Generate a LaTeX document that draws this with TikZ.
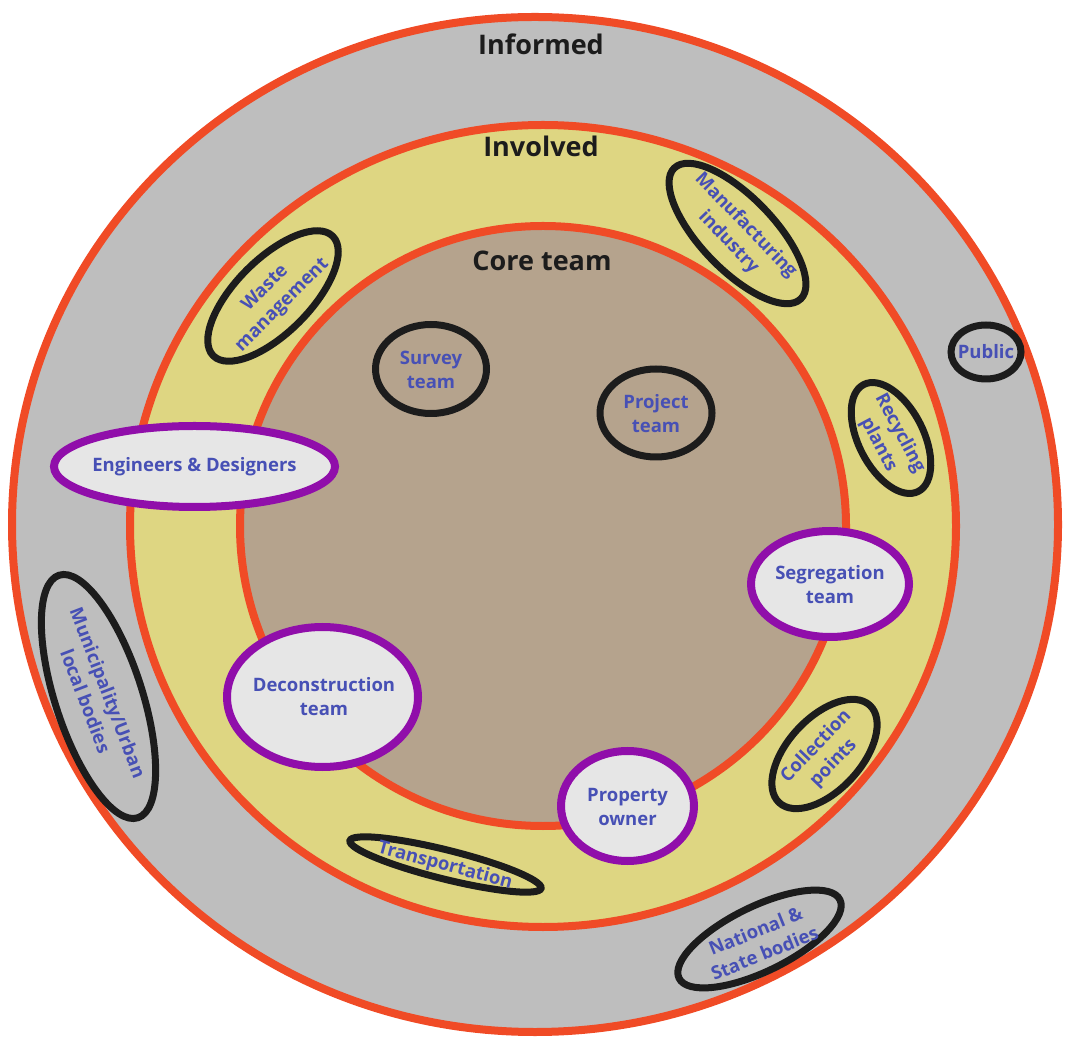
\documentclass[tikz,border=0pt]{standalone}
\usepackage{fontspec}
\setmainfont{Open Sans}
\definecolor{Flame}{HTML}{F04B26}
\definecolor{Grey}{HTML}{BEBEBE}
\definecolor{Sand}{HTML}{DED682}
\definecolor{Taupe}{HTML}{B5A38D}
\definecolor{Plum}{HTML}{900EAA}
\definecolor{Pale}{HTML}{E6E6E6}
\definecolor{Coal}{HTML}{1C1C1C}
\definecolor{Ink}{HTML}{4750B5}

\begin{document}
\begin{tikzpicture}[x=1pt,y=1pt,
    band/.style={draw=Flame,line width=8pt},
    oval/.style={draw=Coal,line width=7pt},
    keyoval/.style={draw=Plum,fill=Pale,line width=8pt},
    tier/.style={font=\fontsize{27}{32}\selectfont\bfseries,text=Coal},
    who/.style={font=\fontsize{18.5}{24}\selectfont\bfseries,text=Ink,align=center,inner sep=0pt}]
    \useasboundingbox (0,0) rectangle (1067,1039);
    % the three rings
    \filldraw[band,fill=Grey] (535,514.5) ellipse [x radius=523,y radius=507.5];
    \filldraw[band,fill=Sand] (543,513) ellipse [x radius=413,y radius=401];
    \filldraw[band,fill=Taupe] (543,513) ellipse [x radius=303,y radius=300];
    \node[tier] (informed) at (541,995) {Informed};
    \node[tier] (involved) at (541,893) {Involved};
    \node[tier] (core) at (542,778) {Core team};
    % black ovals
    \draw[oval,shift={(273,743)},rotate=45] (0,0) ellipse [x radius=84.5,y radius=37];
    \draw[oval,shift={(737.5,805.5)},rotate=-46] (0,0) ellipse [x radius=91,y radius=36.5];
    \draw[oval] (431,670) ellipse [x radius=55.5,y radius=44.5];
    \draw[oval] (656,626) ellipse [x radius=56,y radius=44];
    \draw[oval] (986,687) ellipse [x radius=35,y radius=27];
    \draw[oval,shift={(891,601)},rotate=-63] (0,0) ellipse [x radius=60,y radius=32.5];
    \draw[oval,shift={(824.5,285)},rotate=47] (0,0) ellipse [x radius=66.5,y radius=36.5];
    \draw[oval,shift={(445.5,174.5)},rotate=-14] (0,0) ellipse [x radius=98.5,y radius=14.5];
    \draw[oval,shift={(98.5,342.5)},rotate=-72] (0,0) ellipse [x radius=127.5,y radius=43.5];
    \draw[oval,shift={(759.5,100)},rotate=26] (0,0) ellipse [x radius=89.5,y radius=32.5];
    % purple ovals
    \filldraw[keyoval] (194.5,572.5) ellipse [x radius=140.5,y radius=40.5];
    \filldraw[keyoval] (830,455) ellipse [x radius=79,y radius=53];
    \filldraw[keyoval] (322.5,342) ellipse [x radius=95.5,y radius=70];
    \filldraw[keyoval] (627.5,233) ellipse [x radius=66.5,y radius=55];
    % stakeholders
    \node[who,rotate=45] (waste) at (274,742) {Waste\\management};
    \node[who,rotate=-46] (manuf) at (737,805) {Manufacturing\\industry};
    \node[who] (survey) at (431,669) {Survey\\team};
    \node[who] (project) at (656,625) {Project\\team};
    \node[who] (public) at (986,687) {Public};
    \node[who,rotate=-62] (recycle) at (889,600) {Recycling\\plants};
    \node[who,rotate=46] (collect) at (825,284) {Collection\\points};
    \node[who,rotate=-15] (transport) at (445,173) {Transportation};
    \node[who,rotate=-69] (municipal) at (97,342) {Municipality/Urban\\local bodies};
    \node[who,rotate=22] (national) at (760,97) {National \&\\State bodies};
    \node[who] (engineers) at (194.5,572) {Engineers \& Designers};
    \node[who] (segregate) at (830,454) {Segregation\\team};
    \node[who] (deconstruct) at (324,342) {Deconstruction\\team};
    \node[who] (owner) at (627.5,232) {Property\\owner};
\end{tikzpicture}
\end{document}
